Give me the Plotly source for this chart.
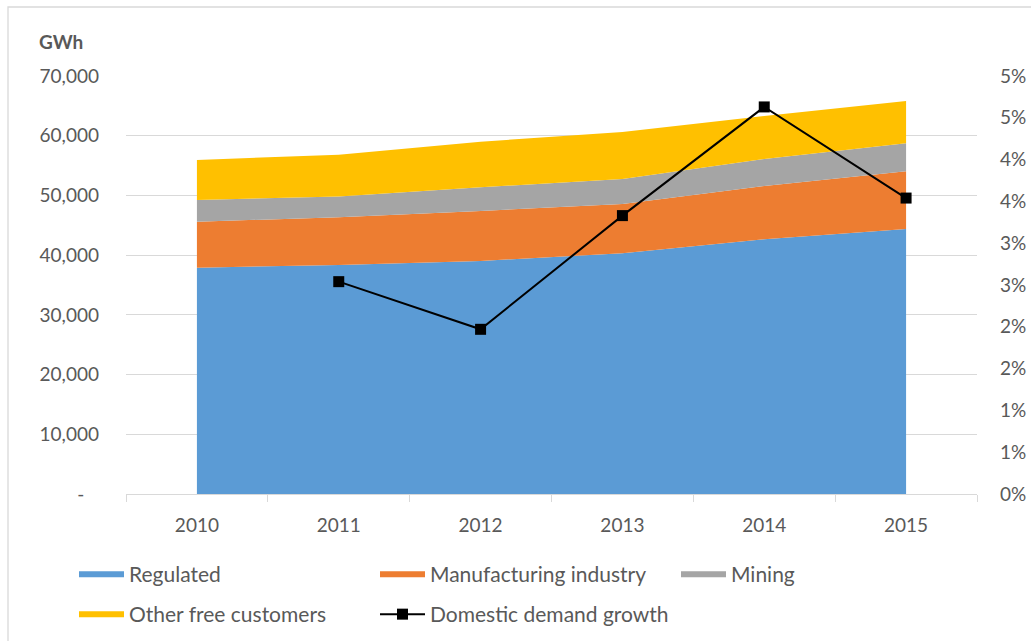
import plotly.graph_objects as go

years = ["2010", "2011", "2012", "2013", "2014", "2015"]
regulated = [37900, 38360, 39030, 40320, 42660, 44390]
manufacturing = [7700, 7990, 8370, 8260, 8930, 9660]
mining = [3650, 3450, 3970, 4180, 4520, 4690]
other_free = [6700, 7030, 7630, 7880, 7190, 7090]
growth_years = ["2011", "2012", "2013", "2014", "2015"]
growth_pct = [2.54, 1.97, 3.33, 4.63, 3.54]

left_tickvals = [0, 10000, 20000, 30000, 40000, 50000, 60000, 70000]
left_ticktext = ["-   ", "10,000", "20,000", "30,000", "40,000", "50,000", "60,000", "70,000"]
right_tickvals = [0, 0.5, 1, 1.5, 2, 2.5, 3, 3.5, 4, 4.5, 5]
right_ticktext = ["0%", "1%", "1%", "2%", "2%", "3%", "3%", "4%", "4%", "5%", "5%"]

FONT = "Lato"
TXT = "#595959"

fig = go.Figure()
series = [
    ("Regulated", regulated, "#5B9BD5", "legend"),
    ("Manufacturing industry", manufacturing, "#ED7D31", "legend"),
    ("Mining", mining, "#A5A5A5", "legend"),
    ("Other free customers", other_free, "#FFC000", "legend2"),
]
for name, vals, col, lg in series:
    fig.add_trace(go.Scatter(
        x=years, y=vals, name=name, stackgroup="one", mode="none",
        fillcolor=col, line=dict(width=0), hoverinfo="x+y+name", legend=lg))

fig.add_trace(go.Scatter(
    x=growth_years, y=growth_pct, name="Domestic demand growth", yaxis="y2",
    mode="lines+markers", line=dict(color="black", width=2),
    marker=dict(symbol="square", size=11, color="black"), legend="legend2"))

W, H = 1031, 641
L, R, T, B = 126, 977, 76, 494
pw, ph = R - L, B - T

def px(x):
    return (x - L) / pw

def py(y):
    return (B - y) / ph

leg_common = dict(
    orientation="h", xanchor="left", yanchor="top",
    entrywidth=241, entrywidthmode="pixels", traceorder="normal",
    font=dict(family=FONT, size=21, color=TXT), itemwidth=45,
    bgcolor="rgba(0,0,0,0)", tracegroupgap=0,
)

fig.update_layout(
    width=W, height=H,
    margin=dict(l=L, r=W - R, t=T, b=H - B, autoexpand=False),
    paper_bgcolor="white", plot_bgcolor="white",
    font=dict(family=FONT, size=18, color=TXT),
    showlegend=True,
    legend=dict(x=px(74), y=py(554), **leg_common),
    legend2=dict(x=px(74), y=py(594), **leg_common),
    xaxis=dict(
        type="category", range=[-0.5, 5.5], showgrid=False,
        showline=True, linecolor="#D9D9D9", linewidth=1,
        ticks="outside", tickson="boundaries", ticklen=7, tickcolor="#D9D9D9",
        tickfont=dict(family=FONT, size=19, color=TXT), ticklabelstandoff=14,
        zeroline=False,
    ),
    yaxis=dict(
        range=[0, 70000], tickvals=left_tickvals, ticktext=left_ticktext,
        showgrid=True, gridcolor="#D9D9D9", gridwidth=1.3, zeroline=False,
        showline=False, ticks="", ticklabelstandoff=26,
        tickfont=dict(family=FONT, size=19, color=TXT),
    ),
    yaxis2=dict(
        range=[0, 5], tickvals=right_tickvals, ticktext=right_ticktext,
        overlaying="y", side="right", showgrid=False, zeroline=False,
        showline=False, ticks="", ticklabelstandoff=22,
        tickfont=dict(family=FONT, size=19, color=TXT),
    ),
    annotations=[dict(
        text="<b>GWh</b>", x=px(37), y=py(42), xref="paper", yref="paper",
        xanchor="left", yanchor="middle", showarrow=False,
        font=dict(family=FONT, size=19, color=TXT))],
    shapes=[dict(
        type="rect", xref="paper", yref="paper",
        x0=px(8), x1=px(1045), y0=py(655), y1=py(7),
        line=dict(color="#D9D9D9", width=1.3), fillcolor="rgba(0,0,0,0)", layer="below")],
)

fig.write_html("out.html")
